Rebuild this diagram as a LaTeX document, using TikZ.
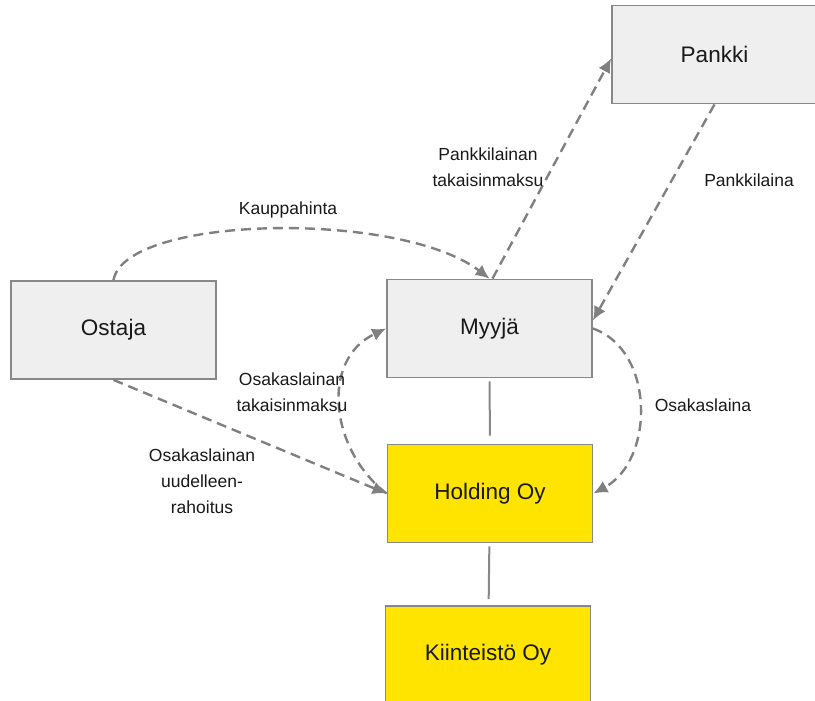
\documentclass[tikz,border=0pt]{standalone}
\usepackage{fontspec}
\setmainfont{Liberation Sans}
\usepackage{tikz}
\usetikzlibrary{arrows.meta}
\definecolor{boxgrey}{RGB}{239,239,239}
\definecolor{edgegrey}{RGB}{136,136,136}
\definecolor{flowgrey}{RGB}{128,128,128}
\definecolor{firmyellow}{RGB}{255,228,0}
\definecolor{txt}{RGB}{25,25,25}
\tikzset{
  party/.style ={draw=edgegrey, line width=1.8pt, fill=boxgrey, minimum width=205pt,
                 minimum height=98pt, inner sep=0pt, text=txt,
                 font=\fontsize{22.5}{26}\selectfont},
  firm/.style  ={party, fill=firmyellow},
  flow/.style  ={-{Latex[length=14pt,width=13pt]}, draw=flowgrey, line width=2.4pt,
                 dash pattern=on 10pt off 6pt},
  link/.style  ={draw=edgegrey, line width=2pt},
  lbl/.style   ={text=txt, align=center, font=\fontsize{17.5}{26}\selectfont},
}
\begin{document}
\begin{tikzpicture}[x=1pt,y=-1pt]
\clip (0,0) rectangle (815,701);
% boxes
\node[party] (pankki)  at (714.5,54.5) {Pankki};
\node[party] (ostaja)  at (113.5,330)  {Ostaja};
\node[party] (myyja)   at (489.5,328.5) {Myyjä};
\node[firm]  (holding) at (490,493.5) {Holding Oy};
\node[firm]  (kiinteisto) at (488,655) {Kiinteistö Oy};

% ownership
\draw[link,shorten <=3pt,shorten >=8pt] (myyja) -- (holding);
\draw[link,shorten <=3pt,shorten >=6pt] (holding) -- (kiinteisto);

% money flows
\draw[flow] (ostaja.north) .. controls (125,215) and (400,210) .. (myyja.north);
\draw[flow] ([xshift=3pt]myyja.north) -- ([yshift=-4pt]pankki.west);
\draw[flow] (pankki.south) -- ([yshift=8pt]myyja.east);
\draw[flow] (myyja.east) .. controls (655,350) and (655,460) .. (holding.east);
\draw[flow] (holding.west) .. controls (330,450) and (320,360) .. (myyja.west);
\draw[flow] (ostaja.south) -- (holding.west);

% labels
\node[lbl] (l-kauppa)  at (288,210) {Kauppahinta};
\node[lbl] (l-pmaksu)  at (488,167) {Pankkilainan\\takaisinmaksu};
\node[lbl] (l-plaina)  at (749,180) {Pankkilaina};
\node[lbl] (l-olaina)  at (703,405) {Osakaslaina};
\node[lbl] (l-omaksu)  at (292,392) {Osakaslainan\\takaisinmaksu};
\node[lbl] (l-uudel)   at (202,481) {Osakaslainan\\uudelleen-\\rahoitus};
\end{tikzpicture}
\end{document}
